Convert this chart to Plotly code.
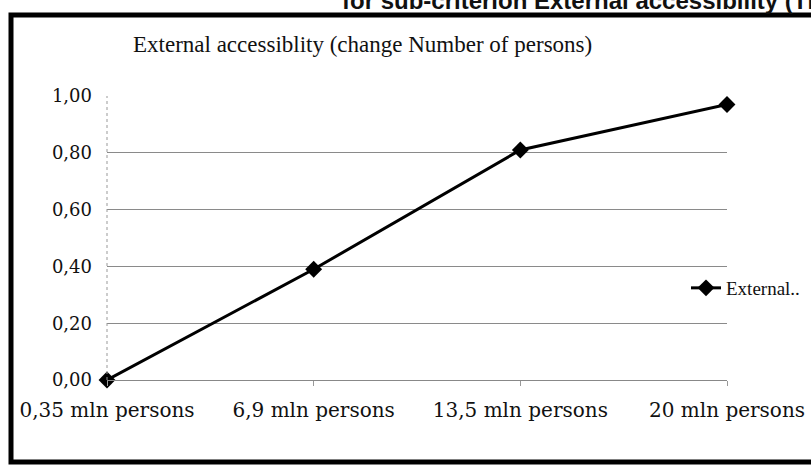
import plotly.graph_objects as go

categories = ["0,35 mln persons", "6,9 mln persons", "13,5 mln persons", "20 mln persons"]
values = [0.00, 0.39, 0.81, 0.97]
y_ticks = [0.0, 0.2, 0.4, 0.6, 0.8, 1.0]
y_tick_labels = ["0,00", "0,20", "0,40", "0,60", "0,80", "1,00"]
series_name = "External.."
title_text = "External accessiblity (change Number of persons)"
header_text = "for sub-criterion External accessibility (TE"

W, H = 811, 474
L, R, T, B = 107, 84, 96, 94
pw, ph = W - L - R, H - T - B

def px_x(px):
    return (px - L) / pw

def px_y(py):
    return (H - B - py) / ph

fig = go.Figure()
fig.add_trace(go.Scatter(
    x=categories, y=values, name=series_name, mode="lines+markers",
    line=dict(color="black", width=3),
    marker=dict(symbol="diamond", size=13, color="black"),
    cliponaxis=False, showlegend=True,
))

fig.update_layout(
    width=W, height=H,
    margin=dict(l=L, r=R, t=T, b=B, pad=0, autoexpand=False),
    paper_bgcolor="white", plot_bgcolor="white",
    font=dict(family="DejaVu Serif", color="#111", size=18),
    xaxis=dict(
        type="category", range=[0, len(categories) - 1],
        showgrid=False, zeroline=False,
        showline=True, linecolor="#888", linewidth=1,
        ticks="outside", ticklen=5, tickcolor="#999",
        tickfont=dict(family="DejaVu Serif", size=20, color="#111"),
        ticklabelstandoff=7, automargin=False,
    ),
    yaxis=dict(
        range=[0, 1], tickvals=y_ticks, ticktext=y_tick_labels,
        showgrid=True, gridcolor="#8a8a8a", gridwidth=1,
        zeroline=False, showline=False, ticks="",
        tickfont=dict(family="DejaVu Serif", size=18, color="#111"),
        ticklabelstandoff=14, automargin=False,
    ),
    legend=dict(
        xref="container", yref="container",
        x=686 / W, y=1 - 288 / H, xanchor="left", yanchor="middle",
        font=dict(family="Liberation Serif", size=19, color="#111"),
        bgcolor="rgba(0,0,0,0)", itemwidth=30,
    ),
    showlegend=True,
)

fig.add_annotation(
    text=title_text, xref="paper", yref="paper",
    x=px_x(362), y=px_y(45), xanchor="center", yanchor="middle",
    showarrow=False,
    font=dict(family="Liberation Serif", size=23, color="#111"),
)

fig.add_annotation(
    text="<b>" + header_text + "</b>", xref="paper", yref="paper",
    x=px_x(340), y=px_y(16), xanchor="left", yanchor="bottom",
    showarrow=False,
    font=dict(family="Liberation Sans", size=24, color="#111"),
)

# left dotted axis line
fig.add_shape(type="line", xref="paper", yref="paper",
              x0=0, x1=0, y0=0, y1=1,
              line=dict(color="#999", width=1, dash="dot"))

# outer thick frame (right edge beyond the page)
fig.add_shape(type="rect", xref="paper", yref="paper",
              x0=px_x(11), x1=px_x(830), y0=px_y(462), y1=px_y(15),
              line=dict(color="black", width=5), fillcolor="rgba(0,0,0,0)",
              layer="above")

fig.write_html("out.html")
